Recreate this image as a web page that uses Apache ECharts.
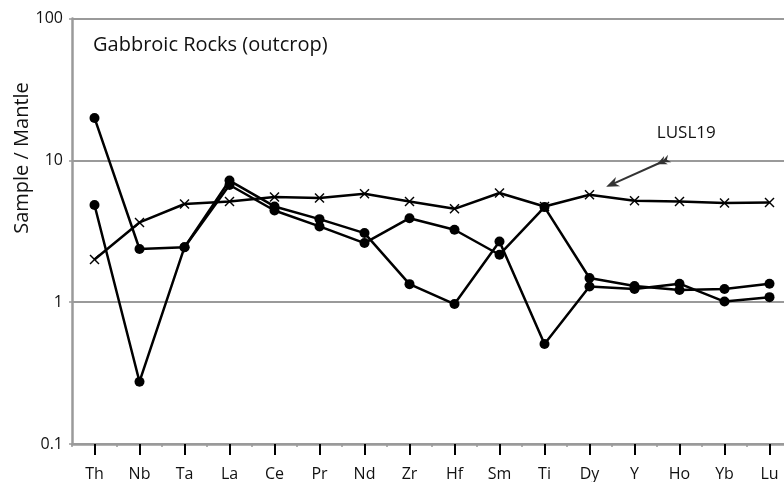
<!DOCTYPE html>
<html><head><meta charset="utf-8">
<script src="https://cdn.jsdelivr.net/npm/echarts/dist/echarts.min.js"></script>
<style>html,body{margin:0;padding:0;background:#fff}#c{width:784px;height:482px}</style>
</head><body><div id="c"></div>
<script>
// ---- data ----
const elements = ['Th','Nb','Ta','La','Ce','Pr','Nd','Zr','Hf','Sm','Ti','Dy','Y','Ho','Yb','Lu'];
const lusl19   = [2.0, 3.65, 4.92, 5.13, 5.51, 5.42, 5.81, 5.13, 4.55, 5.88, 4.73, 5.72, 5.19, 5.13, 5.0, 5.05];
const gabbroA  = [19.9, 2.37, 2.44, 6.7, 4.43, 3.42, 2.61, 3.91, 3.24, 2.16, 4.68, 1.48, 1.30, 1.22, 1.24, 1.35];
const gabbroB  = [4.84, 0.275, 2.44, 7.2, 4.73, 3.85, 3.07, 1.34, 0.97, 2.68, 0.507, 1.29, 1.24, 1.35, 1.01, 1.085];
const yTicks   = [0.1, 1, 10, 100];
const titleText = 'Gabbroic Rocks (outcrop)';
const yName = 'Sample / Mantle';
const calloutText = 'LUSL19';

const FONT = '"Open Sans", "Noto Sans", sans-serif';
const GRAY = '#9a9a9a';
const crossPath = 'path://M0,1L1,0L5,4L9,0L10,1L6,5L10,9L9,10L5,6L1,10L0,9L4,5Z';

const chart = echarts.init(document.getElementById('c'), null, {renderer: 'canvas'});

const option = {
  animation: false,
  backgroundColor: '#fff',
  grid: {left: 72, width: 720, top: 18.5, bottom: 38, containLabel: false, outerBoundsMode: 'none'},
  xAxis: [{
    type: 'category', data: elements, boundaryGap: true, position: 'bottom',
    axisLine: {show: true, onZero: false, lineStyle: {color: GRAY, width: 2.5}},
    axisTick: {show: true, alignWithLabel: true, length: 11, lineStyle: {color: '#000', width: 2}},
    axisLabel: {margin: 22, color: '#111', fontSize: 16, fontFamily: FONT, interval: 0, hideOverlap: false},
    splitLine: {show: false}
  }, {
    type: 'category', data: elements, boundaryGap: true, position: 'bottom',
    axisLine: {show: false},
    axisTick: {show: true, length: 3, interval: 0, lineStyle: {color: GRAY, width: 1.5}},
    axisLabel: {show: false}, splitLine: {show: false}
  }],
  yAxis: {
    type: 'log', logBase: 10, min: 0.1, max: 100,
    axisLine: {show: true, lineStyle: {color: GRAY, width: 2.5}},
    axisTick: {show: true, length: 3, lineStyle: {color: GRAY, width: 1.5}},
    axisLabel: {
      margin: 9, color: '#111', fontSize: 16, fontFamily: FONT,
      formatter: v => { const t = yTicks.find(t => Math.abs(t - v) / t < 1e-6); return t === undefined ? '' : String(t); }
    },
    splitLine: {show: true, lineStyle: {color: GRAY, width: 2}}
  },
  series: [
    {name: 'LUSL19', type: 'line', data: lusl19, xAxisIndex: 0, symbol: crossPath, symbolSize: 10,
      itemStyle: {color: '#000'}, lineStyle: {color: '#000', width: 2.5}, z: 3},
    {name: 'A', type: 'line', data: gabbroA, xAxisIndex: 0, symbol: 'circle', symbolSize: 10,
      itemStyle: {color: '#000'}, lineStyle: {color: '#000', width: 2.5}, z: 4},
    {name: 'B', type: 'line', data: gabbroB, xAxisIndex: 0, symbol: 'circle', symbolSize: 10,
      itemStyle: {color: '#000'}, lineStyle: {color: '#000', width: 2.5}, z: 4}
  ]
};
chart.setOption(option);

// ---- annotations placed through the axes ----
const x0 = chart.convertToPixel({xAxisIndex: 0}, elements[0]);
const dx = chart.convertToPixel({xAxisIndex: 0}, elements[1]) - x0;
const xAt = f => x0 + f * dx;
const yAt = v => chart.convertToPixel({yAxisIndex: 0}, v);

const tip = [xAt(11.37), yAt(6.5)];
const tail = [xAt(12.72), yAt(10.1)];
const len = Math.hypot(tip[0] - tail[0], tip[1] - tail[1]);
const u = [(tip[0] - tail[0]) / len, (tip[1] - tail[1]) / len];
const n = [-u[1], u[0]];
const P = (base, a, b) => [base[0] + a * u[0] + b * n[0], base[1] + a * u[1] + b * n[1]];
const ARROW = '#333';

chart.setOption({
  graphic: [
    {type: 'text', x: 93, y: 45, style: {text: titleText, font: '20px ' + FONT, fill: '#111',
      align: 'left', verticalAlign: 'middle', textAlign: 'left', textVerticalAlign: 'middle'}},
    {type: 'text', x: 22, y: 158, rotation: Math.PI / 2, style: {text: yName, font: '20px ' + FONT, fill: '#111',
      align: 'center', verticalAlign: 'middle', textAlign: 'center', textVerticalAlign: 'middle'}},
    {type: 'text', x: xAt(13.15), y: yAt(15.6), style: {text: calloutText, font: '17px ' + FONT, fill: '#111',
      align: 'center', verticalAlign: 'middle', textAlign: 'center', textVerticalAlign: 'middle'}},
    {type: 'line', shape: {x1: P(tail, 2, 0)[0], y1: P(tail, 2, 0)[1], x2: P(tip, -8, 0)[0], y2: P(tip, -8, 0)[1]},
      style: {stroke: ARROW, lineWidth: 2}},
    {type: 'polygon', shape: {points: [tip, P(tip, -13, 5), P(tip, -9, 0), P(tip, -13, -5)]}, style: {fill: ARROW}},
    {type: 'polygon', shape: {points: [P(tail, 11, 0), P(tail, 1, 4.5), P(tail, 4, 0), P(tail, 1, -4.5)]}, style: {fill: ARROW}},
    {type: 'polygon', shape: {points: [P(tail, 6, 0), P(tail, -3, 4), P(tail, 0, 0), P(tail, -3, -4)]}, style: {fill: ARROW}}
  ]
});
</script>
</body></html>
